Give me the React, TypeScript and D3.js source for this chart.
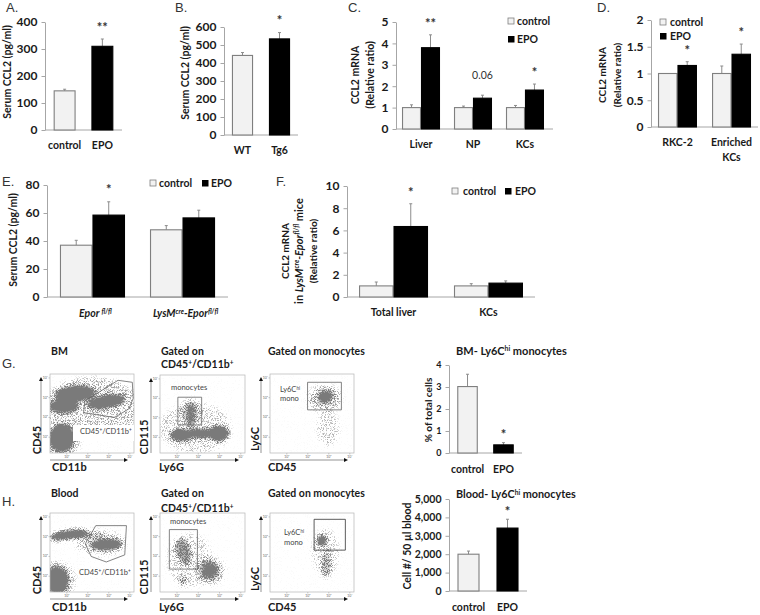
import React, { useEffect, useRef } from "react";
import * as d3 from "d3";

const FONT = "Lato, 'Noto Sans', sans-serif";
const series = ["control", "EPO"];

// bar panels: [mean, top of error bar]
const aCats = ["control", "EPO"];
const aValues = [[145], [310]];
const aErrors = [[151], [337]];
const bCats = ["WT", "Tg6"];
const bValues = [[442], [534]];
const bErrors = [[458], [569]];
const cCats = ["Liver", "NP", "KCs"];
const cControl = [1, 1, 1];
const cEpo = [3.8, 1.44, 1.82];
const cControlErr = [1.13, 1.07, 1.1];
const cEpoErr = [4.4, 1.58, 2.1];
const cMarks = ["**", "0.06", "*"];
const dCats = ["RKC-2", "Enriched|KCs"];
const dControl = [1, 1];
const dEpo = [1.15, 1.36];
const dControlErr = [1, 1.14];
const dEpoErr = [1.22, 1.55];
const eCats = ["Epor [s:fl/fl]", "LysM[s:cre]-Epor[s:fl/fl]"];
const eControl = [37, 48];
const eEpo = [58.5, 56.5];
const eControlErr = [40.5, 51];
const eEpoErr = [68, 62];
const fCats = ["Total liver", "KCs"];
const fControl = [1, 1];
const fEpo = [6.35, 1.25];
const fControlErr = [1.35, 1.2];
const fEpoErr = [8.4, 1.45];
const gCats = ["control", "EPO"];
const gValues = [[3.02], [0.37]];
const gErrors = [[3.58], [0.47]];
const hCats = ["control", "EPO"];
const hValues = [[2000], [3420]];
const hErrors = [[2170], [3900]];

// flow plots are summarised as density clusters, in percent of the plot:
// [x, y, rx, ry, rotation, density]
type Cluster = number[];
const g1Clusters: Cluster[] = [
  [50, 58, 58, 38, 0, 0.3],
  [14, 19, 15, 18, 0, 1],
  [30, 75, 24, 10, -5, 1],
  [16, 59, 18, 8, 0, 1],
  [67, 65, 23, 8, -10, 1],
  [12, 14, 24, 20, 0, 0.3],
];
const g2Clusters: Cluster[] = [
  [42, 32, 42, 32, 0, 0.24],
  [25, 23, 13, 8, 0, 1],
  [47, 25, 18, 6, 0, 1],
  [69, 25, 12, 10, 0, 1],
  [36, 49, 4, 16, 0, 0.8],
  [36, 52, 12, 18, 0, 0.3],
];
const g3Clusters: Cluster[] = [
  [65, 69, 20, 17, 0, 0.36],
  [66, 71, 9, 7, -20, 1],
  [69, 31, 13, 22, 0, 0.24],
];
const h1Clusters: Cluster[] = [
  [22, 72.5, 24, 6, -8, 1],
  [67, 60, 19, 7, -3, 1],
  [45, 72, 20, 6, 0, 0.33],
  [8, 15, 14, 17, 0, 1],
  [60, 62, 30, 16, 0, 0.26],
  [8, 15, 22, 24, 0, 0.3],
];
const h2Clusters: Cluster[] = [
  [27.5, 51.5, 9, 18, -15, 0.6],
  [59, 27, 10, 11, 0, 0.8],
  [27, 14, 4, 7, 0, 0.5],
  [35, 40, 26, 34, 0, 0.22],
  [59, 27, 18, 18, 0, 0.3],
];
const h3Clusters: Cluster[] = [
  [61.7, 65, 6, 7, 0, 1],
  [67, 35, 6, 18, 0, 0.45],
  [66, 50, 16, 30, 0, 0.22],
];

const g1Gate: [number, number][] = [[81, 92], [98, 89.5], [99, 69], [94, 56], [77, 45], [40, 51], [41.5, 66]];
const g2Gate: [number, number][] = [[21, 71.5], [49, 71.5], [49, 36], [21, 36]];
const g3Gate: [number, number][] = [[44.7, 89.5], [85, 89.5], [85, 54.6], [44.7, 54.6]];
const h1Gate: [number, number][] = [[54.5, 84], [91, 84], [89, 47], [67, 38], [49, 45], [42, 61]];
const h2Gate: [number, number][] = [[11, 79], [44, 79], [44, 29], [11, 29]];
const h3Gate: [number, number][] = [[52.5, 92], [89.7, 92], [89.7, 53], [52.5, 53]];

const flowTicks = [10, 35, 60, 85];
const flowTickLabels = ["10¹", "10²", "10³", "10⁴"];

// small markup: [s:..] superscript, [i:..] italic, [is:..] italic superscript
const Rich = ({ text, size }: { text: string; size: number }) => {
  const parts = text.split(/(\[(?:s|i|is):[^\]]*\])/).filter((p) => p !== "");
  let raised = false;
  return (
    <>
      {parts.map((p, i) => {
        const m = p.match(/^\[(s|i|is):([^\]]*)\]$/);
        const sup = !!m && m[1].includes("s");
        const dy = sup && !raised ? -size * 0.32 : !sup && raised ? size * 0.32 : 0;
        raised = sup;
        return (
          <tspan
            key={i}
            dy={dy}
            fontSize={sup ? size * 0.62 : size}
            fontStyle={m && m[1].includes("i") ? "italic" : undefined}
          >
            {m ? m[2] : p}
          </tspan>
        );
      })}
    </>
  );
};

const Label = ({ x, y, text, size = 10.5, weight = 700, anchor = "start", rotate = false, fill = "#1a1a1a", italic = false, family = FONT }: any) => (
  <text
    x={rotate ? 0 : x}
    y={rotate ? 0 : y}
    transform={rotate ? `translate(${x},${y}) rotate(-90)` : undefined}
    textAnchor={anchor}
    fontFamily={family}
    fontSize={size}
    fontWeight={weight}
    fontStyle={italic ? "italic" : undefined}
    fill={fill}
  >
    <Rich text={text} size={size} />
  </text>
);

const YAxis = ({ scale, left, right, bottom, ticks, size }: any) => {
  const ref = useRef<SVGGElement>(null);
  useEffect(() => {
    const g = d3.select(ref.current);
    g.call(d3.axisLeft(scale).tickValues(ticks).tickSize(3.5).tickSizeOuter(0).tickPadding(4).tickFormat(d3.format(",~g")) as any);
    g.selectAll("path,line").attr("stroke", "#a6a6a6");
    g.selectAll("text")
      .attr("font-family", FONT)
      .attr("font-size", size)
      .attr("font-weight", 700)
      .attr("fill", "#1a1a1a");
  }, []);
  return (
    <>
      <g ref={ref} transform={`translate(${left},0)`} />
      <line x1={left} x2={right} y1={bottom} y2={bottom} stroke="#a6a6a6" />
    </>
  );
};

const BarPanel = ({
  cats, values, errors, marks, domain, ticks, left, right, top, bottom,
  padInner, padOuter, align = 0.5, tickSize = 12, labelY, labelSize = 10.5, labelDx = 0, italic = false, starGap = 8,
}: any) => {
  const y = d3.scaleLinear().domain(domain).range([bottom, top]);
  const x0 = d3.scaleBand().domain(cats).range([left, right]).paddingInner(padInner).paddingOuter(padOuter).align(align);
  const grouped = values[0].length > 1;
  const x1 = d3.scaleBand().domain(series).range([0, x0.bandwidth()]);
  return (
    <g>
      <YAxis scale={y} left={left} right={right} bottom={bottom} ticks={ticks} size={tickSize} />
      {cats.map((c: string, i: number) => {
        // values is [controlSeries, epoSeries] when grouped, otherwise one bar per category
        const bars = grouped
          ? series.map((s, k) => ({ s, k, v: values[k][i], e: errors[k][i], bx: x0(c)! + x1(s)!, bw: x1.bandwidth() }))
          : [{ s: series[i], k: i, v: values[i][0], e: errors[i][0], bx: x0(c)!, bw: x0.bandwidth() }];
        const last = bars[bars.length - 1];
        return (
          <g key={c}>
            {bars.map((b) => (
              <g key={b.s}>
                <line x1={b.bx + b.bw / 2} x2={b.bx + b.bw / 2} y1={y(b.v)} y2={y(b.e)} stroke="#8c8c8c" strokeWidth={1} />
                <line x1={b.bx + b.bw / 2 - 1.5} x2={b.bx + b.bw / 2 + 1.5} y1={y(b.e)} y2={y(b.e)} stroke="#8c8c8c" strokeWidth={1} />
                <rect
                  x={b.bx + 0.5}
                  y={y(b.v)}
                  width={b.bw - 1}
                  height={bottom - y(b.v)}
                  fill={b.k === 0 ? "#f2f2f2" : "#000"}
                  stroke={b.k === 0 ? "#7f7f7f" : "#000"}
                  strokeWidth={1.1}
                />
              </g>
            ))}
            {marks[i] ? (
              <Label
                x={last.bx + last.bw / 2}
                y={y(last.e) - (marks[i].includes("*") ? starGap : 16)}
                text={marks[i]}
                anchor="middle"
                size={marks[i].includes("*") ? 13 : 10.5}
                weight={marks[i].includes("*") ? 700 : 400}
                fill="#333"
              />
            ) : null}
            {c.split("|").map((line, n) => (
              <Label
                key={line}
                x={x0(c)! + x0.bandwidth() / 2 + labelDx}
                y={labelY + n * 15}
                text={line}
                anchor="middle"
                size={labelSize}
                italic={italic}
              />
            ))}
          </g>
        );
      })}
    </g>
  );
};

const Legend = ({ x, y, textDx = 9, size = 10.5 }: any) => (
  <g>
    <rect x={x} y={y} width={6} height={6} fill="#f2f2f2" stroke="#7f7f7f" strokeWidth={0.8} />
    <Label x={x + textDx} y={y + 6.5} text="control" size={size} />
  </g>
);
const LegendEpo = ({ x, y, textDx = 9, size = 10.5 }: any) => (
  <g>
    <rect x={x} y={y} width={6.5} height={6.5} fill="#000" />
    <Label x={x + textDx} y={y + 6.5} text="EPO" size={size} />
  </g>
);

const FlowPlot = ({ id, left, top, width, height, clusters, gate, gateColor = "#666" }: any) => {
  const x = d3.scaleLinear().domain([0, 100]).range([left, left + width]);
  const y = d3.scaleLinear().domain([0, 100]).range([top + height, top]);
  const gatePath = d3.line().x((d) => x(d[0])).y((d) => y(d[1])).curve(d3.curveLinearClosed);
  const axisX = left - 9;
  const axisY = top + height + 7;
  return (
    <g>
      <clipPath id={`clip-${id}`}>
        <rect x={left} y={top} width={width} height={height} />
      </clipPath>
      <g clipPath={`url(#clip-${id})`}>
        <g filter="url(#grain)">
          <rect x={left} y={top} width={width} height={height} fill="#000" fillOpacity={0.01} />
          {clusters.map((c: Cluster, i: number) => (
            <ellipse
              key={i}
              cx={x(c[0])}
              cy={y(c[1])}
              rx={x(c[2]) - x(0)}
              ry={y(0) - y(c[3])}
              transform={`rotate(${c[4]},${x(c[0])},${y(c[1])})`}
              fill="#000"
              fillOpacity={c[5]}
            />
          ))}
        </g>
      </g>
      <rect x={left} y={top} width={width} height={height} fill="none" stroke="#b5b5b5" strokeWidth={0.7} />
      {flowTicks.map((t, i) => (
        <g key={t}>
          <line x1={x(t + 10)} x2={x(t + 10)} y1={y(0)} y2={y(0) + 1.5} stroke="#999" strokeWidth={0.5} />
          <text x={x(t + 10)} y={y(0) + 5} textAnchor="middle" fontSize={3.5} fontFamily={FONT} fill="#666">
            {flowTickLabels[i]}
          </text>
          <line x1={x(0)} x2={x(0) - 1.5} y1={y(t + 10)} y2={y(t + 10)} stroke="#999" strokeWidth={0.5} />
          <text x={x(0) - 2} y={y(t + 10) + 1} textAnchor="end" fontSize={3.5} fontFamily={FONT} fill="#666">
            {flowTickLabels[i]}
          </text>
        </g>
      ))}
      <path d={gatePath(gate) ?? ""} fill="none" stroke={gateColor} strokeWidth={0.8} />
      <line x1={axisX} x2={axisX} y1={top + height} y2={top + 6} stroke="#666" strokeWidth={0.7} />
      <path d={`M${axisX - 2},${top + 7}L${axisX + 2},${top + 7}L${axisX},${top + 3}Z`} fill="#111" />
      <line x1={left} x2={left + width - 9} y1={axisY} y2={axisY} stroke="#666" strokeWidth={0.7} />
      <path d={`M${left + width - 10},${axisY - 2}L${left + width - 10},${axisY + 2}L${left + width - 6},${axisY}Z`} fill="#111" />
    </g>
  );
};

export default function App() {
  const letter = { size: 13, weight: 400, family: "'Liberation Sans', sans-serif", fill: "#333" };
  return (
    <svg width={760} height={615} style={{ position: "absolute", left: 0, top: 0, background: "#fff" }}>
      <defs>
        <filter id="grain" x="-5%" y="-5%" width="110%" height="110%" colorInterpolationFilters="sRGB">
          <feGaussianBlur in="SourceGraphic" stdDeviation="2" result="soft" />
          <feTurbulence type="fractalNoise" baseFrequency="1.3" numOctaves="2" seed="7" result="noise" />
          <feColorMatrix in="noise" type="matrix" values="0 0 0 0 0  0 0 0 0 0  0 0 0 0 0  4.5 0 0 0 -1.9" result="grainAlpha" />
          <feComposite in="soft" in2="grainAlpha" operator="arithmetic" k1="0" k2="2.3" k3="1" k4="-1" result="mask" />
          <feFlood floodColor="#7a7a7a" result="ink" />
          <feComposite in="ink" in2="mask" operator="in" />
          <feGaussianBlur stdDeviation="0.4" />
        </filter>
      </defs>

      {/* A */}
      <Label x={6} y={12} text="A." {...letter} />
      <BarPanel cats={aCats} values={aValues} errors={aErrors} marks={["", "**"]} domain={[0, 400]} ticks={[0, 100, 200, 300, 400]}
        left={45} right={122} top={22} bottom={130} padInner={0.42} padOuter={0.23} labelY={149} starGap={7} />
      <Label x={11} y={72} text="Serum CCL2 (pg/ml)" rotate anchor="middle" size={10.5} />

      {/* B */}
      <Label x={175} y={12} text="B." {...letter} />
      <BarPanel cats={bCats} values={bValues} errors={bErrors} marks={["", "*"]} domain={[0, 600]} ticks={[0, 100, 200, 300, 400, 500, 600]}
        left={224} right={298} top={27} bottom={135} padInner={0.43} padOuter={0.215} labelY={154} starGap={8} />
      <Label x={189} y={73} text="Serum CCL2 (pg/ml)" rotate anchor="middle" size={10.5} />

      {/* C */}
      <Label x={348} y={12} text="C." {...letter} />
      <BarPanel cats={cCats} values={[cControl, cEpo]} errors={[cControlErr, cEpoErr]} marks={cMarks} domain={[0, 5]} ticks={[0, 1, 2, 3, 4, 5]}
        left={396} right={553} top={22} bottom={129} padInner={0.27} padOuter={0.145} align={0.4} labelY={148} starGap={7} />
      <Label x={359} y={75} text="CCL2 mRNA" rotate anchor="middle" size={10.5} />
      <Label x={374} y={75} text="(Relative ratio)" rotate anchor="middle" size={10.5} />
      <Legend x={508} y={18} />
      <LegendEpo x={508} y={36} />

      {/* D */}
      <Label x={597} y={12} text="D." {...letter} />
      <BarPanel cats={dCats} values={[dControl, dEpo]} errors={[dControlErr, dEpoErr]} marks={["*", "*"]} domain={[0, 2]} ticks={[0, 0.5, 1, 1.5, 2]}
        left={651} right={758} top={20} bottom={127} padInner={0.28} padOuter={0.13} labelY={146} starGap={7} />
      <Label x={606} y={75} text="CCL2 mRNA" rotate anchor="middle" size={10} />
      <Label x={621} y={75} text="(Relative ratio)" rotate anchor="middle" size={10} />
      <Legend x={660} y={19} textDx={10} />
      <LegendEpo x={660} y={33} textDx={10} />

      {/* E */}
      <Label x={2} y={186} text="E." {...letter} />
      <BarPanel cats={eCats} values={[eControl, eEpo]} errors={[eControlErr, eEpoErr]} marks={["*", ""]} domain={[0, 80]} ticks={[0, 20, 40, 60, 80]}
        left={47} right={228} top={185} bottom={297} padInner={0.278} padOuter={0.144} labelY={317} labelDx={3} italic starGap={8} />
      <Label x={17} y={240} text="Serum CCL2 (pg/ml)" rotate anchor="middle" size={10.5} />
      <Legend x={150} y={180} />
      <LegendEpo x={202} y={180} />

      {/* F */}
      <Label x={276} y={186} text="F." {...letter} />
      <BarPanel cats={fCats} values={[fControl, fEpo]} errors={[fControlErr, fEpoErr]} marks={["*", ""]} domain={[0, 10]} ticks={[0, 2, 4, 6, 8, 10]}
        left={347} right={535} top={186} bottom={297} padInner={0.274} padOuter={0.127} labelY={316} starGap={7} />
      <Label x={289} y={251} text="CCL2 mRNA" rotate anchor="middle" size={10} />
      <Label x={303} y={251} text="in [i:LysM][is:cre][i:-Epor][is:fl/fl] mice" rotate anchor="middle" size={11} />
      <Label x={317} y={251} text="(Relative ratio)" rotate anchor="middle" size={10} />
      <Legend x={452} y={188} textDx={11} />
      <LegendEpo x={505} y={188} textDx={10} />

      {/* G */}
      <Label x={2} y={368} text="G." {...letter} />
      <Label x={51} y={355} text="BM" />
      <Label x={161} y={355} text="Gated on" />
      <Label x={161} y={368} text="CD45[s:+]/CD11b[s:+]" />
      <Label x={268} y={355} text="Gated on monocytes" />
      <FlowPlot id="g1" left={50} top={374} width={84} height={79} clusters={g1Clusters} gate={g1Gate} />
      <rect x={73} y={425} width={61} height={16} fill="#fff" />
      <Label x={80} y={434} text="CD45[s:+]/CD11b[s:+]" size={7.5} weight={400} fill="#444" />
      <FlowPlot id="g2" left={160} top={375} width={85} height={78} clusters={g2Clusters} gate={g2Gate} />
      <Label x={171} y={390} text="monocytes" size={7.5} weight={400} fill="#444" />
      <FlowPlot id="g3" left={270} top={374} width={84} height={79} clusters={g3Clusters} gate={g3Gate} />
      <Label x={280} y={392} text="Ly6C[s:hi]" size={7.5} weight={400} fill="#444" />
      <Label x={280} y={401} text="mono" size={7.5} weight={400} fill="#444" />
      <Label x={41} y={440} text="CD45" rotate anchor="middle" size={11} />
      <Label x={52} y={471} text="CD11b" size={11} />
      <Label x={148} y={437} text="CD115" rotate anchor="middle" size={11} />
      <Label x={159} y={471} text="Ly6G" size={11} />
      <Label x={259} y={439} text="Ly6C" rotate anchor="middle" size={11} />
      <Label x={268} y={471} text="CD45" size={11} />

      <Label x={456} y={355} text="BM- Ly6C[s:hi]  monocytes" size={11} />
      <BarPanel cats={gCats} values={gValues} errors={gErrors} marks={["", "*"]} domain={[0, 4]} ticks={[0, 1, 2, 3, 4]}
        left={449} right={522} top={365} bottom={453} padInner={0.43} padOuter={0.23} tickSize={9} labelY={473} starGap={4} />
      <Label x={432} y={410} text="% of total cells" rotate anchor="middle" size={10} />

      {/* H */}
      <Label x={2} y={506} text="H." {...letter} />
      <Label x={51} y={497} text="Blood" />
      <Label x={161} y={497} text="Gated on" />
      <Label x={161} y={512} text="CD45[s:+]/CD11b[s:+]" />
      <Label x={268} y={497} text="Gated on monocytes" />
      <FlowPlot id="h1" left={50} top={513} width={84} height={79} clusters={h1Clusters} gate={h1Gate} />
      <Label x={79} y={575} text="CD45[s:+]/CD11b[s:+]" size={7.5} weight={400} fill="#444" />
      <FlowPlot id="h2" left={160} top={513} width={85} height={79} clusters={h2Clusters} gate={h2Gate} />
      <Label x={170} y={524} text="monocytes" size={7.5} weight={400} fill="#444" />
      <FlowPlot id="h3" left={270} top={513} width={84} height={79} clusters={h3Clusters} gate={h3Gate} gateColor="#333" />
      <Label x={284} y={535} text="Ly6C[s:hi]" size={7.5} weight={400} fill="#444" />
      <Label x={284} y={545} text="mono" size={7.5} weight={400} fill="#444" />
      <Label x={41} y={580} text="CD45" rotate anchor="middle" size={11} />
      <Label x={52} y={611} text="CD11b" size={11} />
      <Label x={148} y={577} text="CD115" rotate anchor="middle" size={11} />
      <Label x={159} y={611} text="Ly6G" size={11} />
      <Label x={259} y={579} text="Ly6C" rotate anchor="middle" size={11} />
      <Label x={268} y={611} text="CD45" size={11} />

      <Label x={456} y={498} text="Blood- Ly6C[s:hi] monocytes" size={10.8} />
      <BarPanel cats={hCats} values={hValues} errors={hErrors} marks={["", "*"]} domain={[0, 5000]} ticks={[0, 1000, 2000, 3000, 4000, 5000]}
        left={449} right={527} top={499} bottom={591} padInner={0.436} padOuter={0.218} tickSize={10.5} labelY={611} starGap={3} />
      <Label x={411} y={546} text="Cell #/ 50 µl blood" rotate anchor="middle" size={10.5} />
    </svg>
  );
}
